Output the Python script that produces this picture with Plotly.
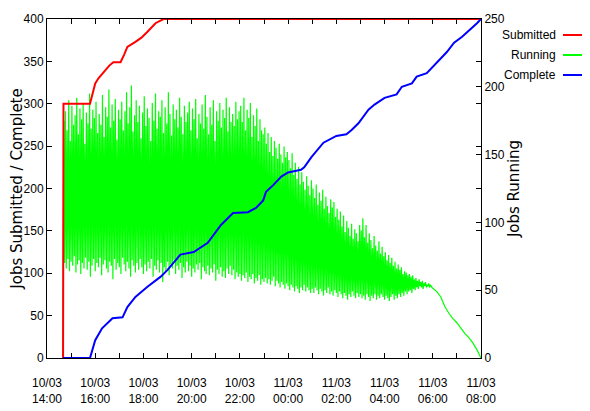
import plotly.graph_objects as go
import pandas as pd

# ---------------- data ----------------
day1 = "2003-03-10"
day2 = "2003-03-11"

# Jobs submitted (left axis)
submitted_times = ["2003-03-10 14:40", "2003-03-10 14:41", "2003-03-10 15:47", "2003-03-10 15:52",
                   "2003-03-10 16:00", "2003-03-10 16:08", "2003-03-10 16:20", "2003-03-10 16:35",
                   "2003-03-10 16:45", "2003-03-10 17:03", "2003-03-10 17:12", "2003-03-10 17:20",
                   "2003-03-10 17:40", "2003-03-10 17:55", "2003-03-10 18:10", "2003-03-10 18:30",
                   "2003-03-10 18:50", "2003-03-11 08:00"]
submitted_values = [0, 300, 300, 310, 324, 330, 337, 345, 349, 349, 358, 367, 373, 378, 385, 395, 400, 400]

# Jobs complete (left axis)
complete_times = ["2003-03-10 14:40", "2003-03-10 15:47", "2003-03-10 16:00", "2003-03-10 16:17",
                  "2003-03-10 16:43", "2003-03-10 17:08", "2003-03-10 17:20", "2003-03-10 17:40",
                  "2003-03-10 18:10", "2003-03-10 18:43", "2003-03-10 19:00", "2003-03-10 19:32",
                  "2003-03-10 20:05", "2003-03-10 20:40", "2003-03-10 21:13", "2003-03-10 21:43",
                  "2003-03-10 22:20", "2003-03-10 22:40", "2003-03-10 22:58", "2003-03-10 23:05",
                  "2003-03-10 23:23", "2003-03-10 23:43", "2003-03-11 00:00", "2003-03-11 00:32",
                  "2003-03-11 00:40", "2003-03-11 00:58", "2003-03-11 01:28", "2003-03-11 02:00",
                  "2003-03-11 02:25", "2003-03-11 02:38", "2003-03-11 02:55", "2003-03-11 03:20",
                  "2003-03-11 03:35", "2003-03-11 04:00", "2003-03-11 04:30", "2003-03-11 04:43",
                  "2003-03-11 05:08", "2003-03-11 05:20", "2003-03-11 05:45", "2003-03-11 06:17",
                  "2003-03-11 06:35", "2003-03-11 06:53", "2003-03-11 07:13", "2003-03-11 07:50",
                  "2003-03-11 08:00"]
complete_values = [0, 0, 21, 35, 47, 48, 60, 72, 84, 96, 104, 122, 125, 136, 157, 171, 172, 177,
                   186, 196, 204, 214, 219, 222, 225, 237, 254, 262, 264, 269, 277, 293, 299, 307,
                   311, 320, 324, 332, 336, 352, 361, 372, 379, 395, 400]

# Jobs running (right axis), sampled every 2 minutes from 14:40 to 05:58
running_start = "2003-03-10 14:40"
running_step = "2min"
running_values = [
    # 14:40 - 16:00
    0, 175, 70, 182, 66, 168, 73, 190, 64, 160, 71, 186, 68, 172, 75, 179, 63, 192, 69, 165,
    72, 184, 62, 176, 70, 188, 66, 158, 74, 181, 65, 173, 71, 195, 60, 169, 68, 183, 73, 177,
    # 16:00 - 18:00
    64, 189, 70, 166, 67, 180, 74, 172, 61, 194, 69, 163, 72, 185, 66, 178, 63, 198, 71, 170,
    68, 187, 58, 175, 73, 191, 65, 161, 70, 183, 67, 176, 62, 189, 74, 168, 69, 182, 64, 196,
    71, 173, 66, 185, 60, 201, 72, 167, 68, 179, 63, 190, 70, 174, 65, 186, 73, 162, 67, 181,
    # 18:00 - 20:00
    62, 193, 69, 171, 64, 184, 71, 177, 66, 160, 73, 188, 60, 175, 68, 195, 65, 169, 72, 182,
    63, 178, 70, 190, 56, 166, 67, 185, 64, 173, 71, 196, 61, 180, 69, 164, 66, 187, 72, 176,
    62, 183, 68, 170, 65, 192, 70, 178, 59, 165, 67, 186, 63, 174, 71, 181, 64, 189, 68, 168,
    # 20:00 - 22:00
    60, 184, 66, 176, 63, 191, 69, 162, 65, 180, 70, 173, 58, 187, 67, 169, 64, 194, 62, 178,
    68, 165, 61, 185, 66, 172, 63, 190, 69, 160, 57, 182, 65, 175, 62, 188, 67, 170, 60, 183,
    64, 177, 59, 192, 66, 167, 62, 185, 68, 174, 61, 180, 65, 171, 58, 189, 63, 176, 60, 182,
    # 22:00 - 23:00
    62, 186, 57, 174, 61, 192, 59, 168, 63, 183, 56, 177, 60, 188, 58, 163, 62, 179, 55, 171,
    59, 184, 57, 160, 61, 176, 54, 168, 58, 165,
    # 23:00 - 00:00
    56, 170, 59, 158, 55, 166, 58, 152, 54, 163, 57, 149, 60, 160, 53, 155, 57, 147, 55, 158,
    52, 150, 56, 144, 54, 156, 51, 148, 55, 152,
    # 00:00 - 01:00
    53, 146, 50, 140, 54, 151, 52, 135, 49, 144, 53, 132, 51, 141, 48, 128, 52, 137, 50, 130,
    54, 124, 49, 134, 52, 127, 50, 120, 48, 131,
    # 01:00 - 02:00
    51, 125, 48, 118, 52, 128, 50, 113, 47, 122, 51, 116, 49, 124, 46, 110, 50, 119, 48, 112,
    52, 107, 47, 117, 49, 111, 46, 115, 50, 104,
    # 02:00 - 03:00
    48, 110, 45, 102, 49, 108, 47, 97, 44, 105, 48, 93, 46, 101, 43, 96, 47, 90, 45, 99,
    49, 88, 46, 95, 44, 92, 48, 86, 45, 98,
    # 03:00 - 04:00
    47, 94, 44, 103, 46, 89, 43, 98, 47, 85, 45, 92, 42, 87, 46, 81, 44, 90, 47, 83,
    43, 79, 46, 86, 44, 77, 47, 82, 45, 75,
    # 04:00 - 05:00
    43, 78, 46, 72, 44, 76, 42, 70, 45, 74, 47, 68, 43, 71, 46, 66, 44, 69, 47, 65,
    45, 67, 48, 62, 46, 64, 49, 63, 47, 61,
    # 05:00 - 06:00
    49, 62, 50, 60, 48, 61, 51, 58, 50, 59, 52, 57, 51, 58, 53, 56, 52, 57, 51, 55,
    53, 56, 52, 54, 53, 55, 52, 54, 53, 52,
]
running_tail_times = ["2003-03-11 06:10", "2003-03-11 06:20", "2003-03-11 06:30",
                      "2003-03-11 06:40", "2003-03-11 06:50", "2003-03-11 07:00", "2003-03-11 07:10",
                      "2003-03-11 07:20", "2003-03-11 07:30", "2003-03-11 07:40", "2003-03-11 07:50",
                      "2003-03-11 08:00"]
running_tail_values = [49, 45, 38, 33, 29, 26, 22, 18, 15, 11, 6, 0]

tick_times = [f"{day1} 14:00", f"{day1} 16:00", f"{day1} 18:00", f"{day1} 20:00", f"{day1} 22:00",
              f"{day2} 00:00", f"{day2} 02:00", f"{day2} 04:00", f"{day2} 06:00", f"{day2} 08:00"]
tick_labels = ["10/03<br>14:00", "10/03<br>16:00", "10/03<br>18:00", "10/03<br>20:00", "10/03<br>22:00",
               "11/03<br>00:00", "11/03<br>02:00", "11/03<br>04:00", "11/03<br>06:00", "11/03<br>08:00"]

series_names = ["Submitted", "Running", "Complete"]
series_colors = ["#ff0000", "#00ff00", "#0000ff"]

# ---------------- figure ----------------
run_t = list(pd.date_range(running_start, periods=len(running_values), freq=running_step))
run_t += list(pd.to_datetime(running_tail_times))
run_v = running_values + running_tail_values

fig = go.Figure()
# Running on the base (right-side) axis so that the other two lines are drawn above it
fig.add_trace(go.Scatter(x=run_t, y=run_v, mode="lines", name="Running", yaxis="y",
                         line=dict(color=series_colors[1], width=1.2, simplify=False)))
fig.add_trace(go.Scatter(x=pd.to_datetime(submitted_times), y=submitted_values, mode="lines",
                         name="Submitted", yaxis="y2", line=dict(color=series_colors[0], width=2)))
fig.add_trace(go.Scatter(x=pd.to_datetime(complete_times), y=complete_values, mode="lines",
                         name="Complete", yaxis="y2", line=dict(color=series_colors[2], width=2)))

tick_font = dict(family="Liberation Sans Narrow, Arial Narrow, Liberation Sans, Arial", size=12, color="#000")
title_font = dict(family="DejaVu Sans, Verdana, sans-serif", size=15, color="#000")

# the page body has an 8px margin, so the figure is 8px smaller than the window
fig.update_layout(
    template="none",
    width=582, height=403,
    margin=dict(l=39, r=109, t=11, b=53),
    paper_bgcolor="white", plot_bgcolor="white",
    showlegend=False,
    xaxis=dict(type="date", range=[f"{day1} 14:00", f"{day2} 08:00"], automargin=False,
               tickvals=tick_times, ticktext=tick_labels,
               ticks="inside", ticklen=5, tickcolor="#000", tickwidth=1,
               minor=dict(ticks="inside", dtick=3600000, ticklen=5, tickcolor="#000", showgrid=False),
               showline=True, linecolor="#000", linewidth=1, mirror="ticks",
               showgrid=False, zeroline=False, tickfont=tick_font, tickangle=0,
               ticklabelstandoff=14),
    yaxis=dict(range=[0, 250], dtick=50, side="right", automargin=False,
               ticks="inside", ticklen=5, tickcolor="#000",
               showline=True, linecolor="#000", linewidth=1,
               showgrid=False, zeroline=False, tickfont=tick_font,
               title=dict(text="Jobs Running", font=title_font, standoff=4)),
    yaxis2=dict(range=[0, 400], dtick=50, overlaying="y", side="left", automargin=False,
                ticks="inside", ticklen=5, tickcolor="#000",
                showline=True, linecolor="#000", linewidth=1, mirror="ticks",
                showgrid=False, zeroline=False, tickfont=tick_font,
                title=dict(text="Jobs Submitted / Complete", font=title_font, standoff=6)),
)

# legend drawn at the right, text before sample line (as in the reference)
plot_l, plot_r, plot_t, plot_b = 47, 481, 19, 358
legend_y = [35, 55, 75]
for name, color, yp in zip(series_names, series_colors, legend_y):
    py = (plot_b - yp) / (plot_b - plot_t)
    fig.add_annotation(x=(558 - plot_l) / (plot_r - plot_l), y=py, xref="paper", yref="paper",
                       text=name, showarrow=False, xanchor="right", yanchor="middle", font=tick_font)
    fig.add_shape(type="line", xref="paper", yref="paper",
                  x0=(563 - plot_l) / (plot_r - plot_l), x1=(584 - plot_l) / (plot_r - plot_l),
                  y0=py, y1=py, line=dict(color=color, width=2))

fig.write_html("out.html")
